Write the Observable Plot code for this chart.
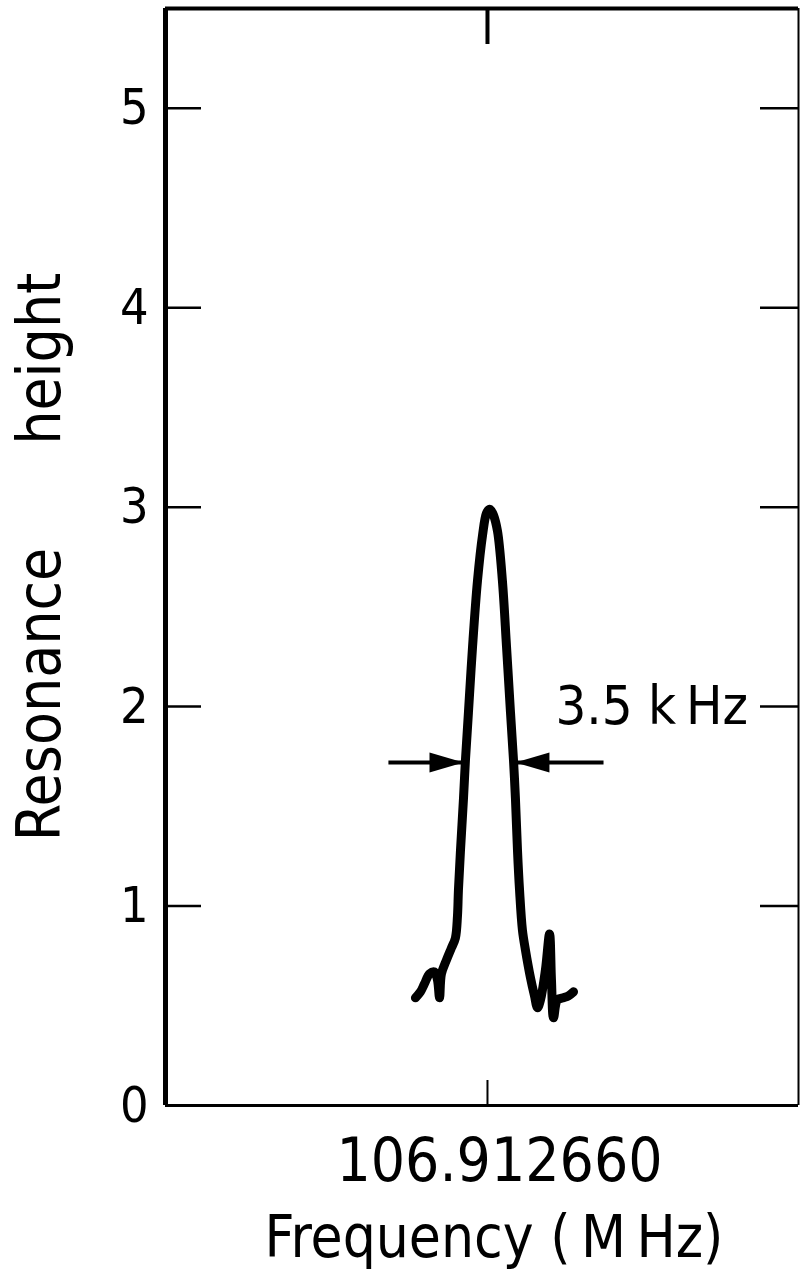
<!DOCTYPE html>
<html><head><meta charset="utf-8">
<script src="https://cdn.jsdelivr.net/npm/d3@7"></script>
<script src="https://cdn.jsdelivr.net/npm/@observablehq/plot@0.6"></script>
<style>
html,body{margin:0;padding:0;background:#fff;}
#chart svg{display:block;}
</style></head><body><div id="chart"></div>
<script>
// Frequency offset from 106.912660 MHz, in kHz
const freqOffsetKHz = [-5.26,-4.89,-4.60,-4.23,-3.87,-3.65,-3.50,-3.36,-2.99,-2.63,-2.34,-2.19,-2.12,-1.97,-1.75,-1.61,-1.39,-1.09,-0.73,-0.36,-0.07,0.15,0.29,0.44,0.73,1.09,1.39,1.68,1.90,2.04,2.19,2.34,2.55,2.77,3.14,3.43,3.65,3.87,4.23,4.53,4.67,4.82,5.11,5.55,5.91,6.28];
const resonanceHeight = [0.54,0.57,0.61,0.66,0.67,0.63,0.54,0.66,0.73,0.79,0.84,0.95,1.08,1.28,1.54,1.73,1.97,2.30,2.63,2.86,2.97,2.99,2.98,2.96,2.88,2.63,2.30,1.97,1.73,1.54,1.28,1.08,0.88,0.78,0.64,0.55,0.49,0.53,0.68,0.86,0.63,0.44,0.53,0.54,0.55,0.57];

const yTicks = [0,1,2,3,4,5];
const xTicks = [0];
const xTickLabels = ["106.912660"];
const xDomain = [-23.5, 22.7];
const yDomain = [0, 5.5];

// FWHM annotation
const fwhmEdges = [-1.75, 2.04];
const arrowTails = [-7.23, 8.47];
const fwhmLevel = 1.72;
const fwhmLabel = ["3.5 k\u2009Hz"];
const fwhmLabelPos = {x: 4.96, y: 2.0};

const xLabel = "Frequency (\u2009M\u2009Hz)";
const yLabel = "Resonance\u00a0\u00a0\u00a0\u00a0\u00a0\u00a0height";

const data = freqOffsetKHz.map((x, i) => ({x, y: resonanceHeight[i]}));

const W = 801, H = 1272, mL = 165, mR = 3, mT = 8, mB = 167;
const plotW = W - mL - mR, plotH = H - mT - mB;
const font = "'DejaVu Sans Condensed','DejaVu Sans',sans-serif";

const headRight = {draw(ctx) { ctx.moveTo(0, 0); ctx.lineTo(-34, -10); ctx.lineTo(-34, 10); ctx.closePath(); }};
const headLeft = {draw(ctx) { ctx.moveTo(0, 0); ctx.lineTo(34, -10); ctx.lineTo(34, 10); ctx.closePath(); }};

const chart = Plot.plot({
  width: W, height: H,
  marginLeft: mL, marginRight: mR, marginTop: mT, marginBottom: mB,
  style: {background: "#fff", fontFamily: font, color: "#000"},
  x: {domain: xDomain, axis: null},
  y: {domain: yDomain, axis: null},
  marks: [
    // inward ticks
    Plot.ruleY(yTicks.filter(d => d > 0), {y: d => d, insetRight: plotW - 36, strokeWidth: 2.5}),
    Plot.ruleY(yTicks.filter(d => d > 0), {y: d => d, insetLeft: plotW - 38, strokeWidth: 2.5}),
    Plot.ruleX(xTicks, {x: d => d, insetBottom: plotH - 36, strokeWidth: 4}),
    Plot.ruleX(xTicks, {x: d => d, insetTop: plotH - 25, strokeWidth: 2}),
    // frame
    Plot.ruleX([xDomain[0]], {x: d => d, strokeWidth: 5}),
    Plot.ruleX([xDomain[1]], {x: d => d, strokeWidth: 2}),
    Plot.ruleY([yDomain[1]], {y: d => d, strokeWidth: 4}),
    Plot.ruleY([yDomain[0]], {y: d => d, strokeWidth: 3}),
    // tick labels
    Plot.text(yTicks, {y: d => d, text: d => String(d), frameAnchor: "left", textAnchor: "end", dx: -17, fontSize: 50}),
    Plot.text(xTicks, {x: d => d, text: (d, i) => xTickLabels[i], frameAnchor: "bottom", dx: 12, dy: 75, fontSize: 60}),
    // axis labels
    Plot.text([xLabel], {frameAnchor: "bottom", dx: 12, dy: 151, fontSize: 58}),
    Plot.text([yLabel], {frameAnchor: "left", textAnchor: "middle", rotate: -90, dx: -125, fontSize: 60}),
    // curve
    Plot.line(data, {x: "x", y: "y", strokeWidth: 9, strokeLinejoin: "round", strokeLinecap: "round", curve: "catmull-rom"}),
    // FWHM arrows
    Plot.link([0, 1], {x1: i => arrowTails[i], x2: i => fwhmEdges[i], y1: () => fwhmLevel, y2: () => fwhmLevel, strokeWidth: 4}),
    Plot.dot([fwhmEdges[0]], {x: d => d, y: () => fwhmLevel, symbol: headRight, fill: "black", stroke: "none"}),
    Plot.dot([fwhmEdges[1]], {x: d => d, y: () => fwhmLevel, symbol: headLeft, fill: "black", stroke: "none"}),
    Plot.text(fwhmLabel, {x: () => fwhmLabelPos.x, y: () => fwhmLabelPos.y, textAnchor: "start", fontSize: 54})
  ]
});
document.getElementById("chart").appendChild(chart);
</script>
</body></html>
